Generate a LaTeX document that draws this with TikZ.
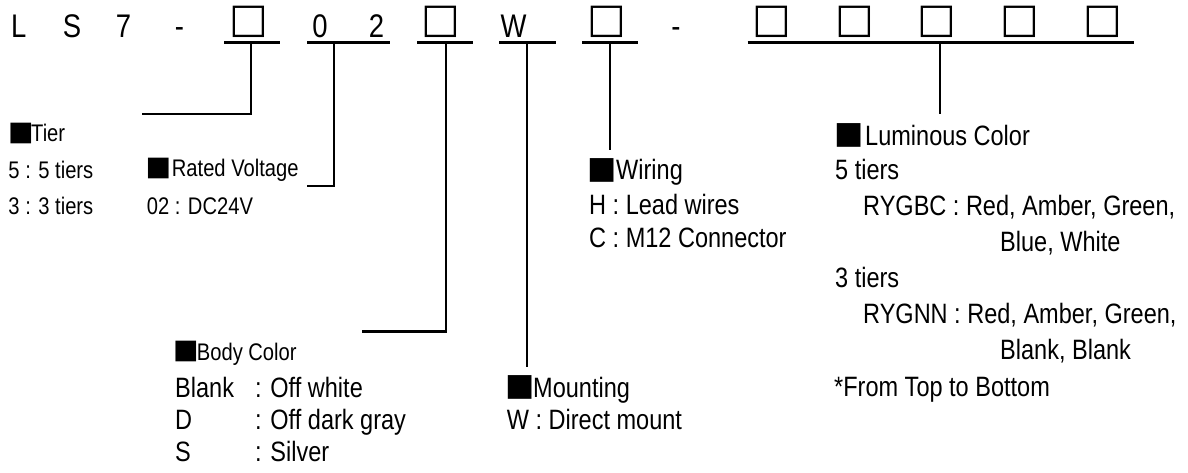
\documentclass[tikz,border=0pt]{standalone}
\usepackage{fontspec}
\setmainfont{Liberation Sans}[FakeStretch=0.84]
\newfontfamily\symfont{DejaVu Sans}
\newcommand{\bsq}{{\symfont ■}}
\newcommand{\wsq}{{\symfont\bfseries □}}
\begin{document}
\begin{tikzpicture}[x=1pt,y=-1pt,
  ch/.style={anchor=base,inner sep=0pt,font=\fontsize{32.7}{40}\selectfont},
  wbox/.style={anchor=center,inner sep=0pt,font=\fontsize{41}{46}\selectfont},
  big/.style={anchor=base west,inner sep=0pt,font=\fontsize{28}{34}\selectfont},
  small/.style={anchor=base west,inner sep=0pt,font=\fontsize{24}{29}\selectfont},
  bsqbig/.style={anchor=center,inner sep=0pt,font=\fontsize{31}{34}\selectfont},
  bsqsmall/.style={anchor=center,inner sep=0pt,font=\fontsize{27}{29}\selectfont},
  uline/.style={line width=3pt},
  conn/.style={line width=2.8pt,line join=miter}]
\useasboundingbox (0,0) rectangle (1188,472);
% top code line
\node[ch] (cL) at (18.8,37) {L};
\node[ch] (cS) at (72,37) {S};
\node[ch] (c7) at (123.4,37) {7};
\node[ch] (cd1) at (179.5,37) {-};
\node[wbox] (b1) at (249,21.6) {\wsq};
\node[ch] (c0) at (320,37) {0};
\node[ch] (c2) at (376.5,37) {2};
\node[wbox] (b2) at (441,21.6) {\wsq};
\node[ch] (cW) at (513.7,37) {W};
\node[wbox] (b3) at (607,21.6) {\wsq};
\node[ch] (cd2) at (676,37) {-};
\node[wbox] (b4) at (772,21.6) {\wsq};
\node[wbox] (b5) at (854.7,21.6) {\wsq};
\node[wbox] (b6) at (937.3,21.6) {\wsq};
\node[wbox] (b7) at (1020,21.6) {\wsq};
\node[wbox] (b8) at (1102.7,21.6) {\wsq};
% underlines
\coordinate (u1a) at (224,42);   \coordinate (u1b) at (280,42);
\coordinate (u2a) at (307,42);   \coordinate (u2b) at (389.6,42);
\coordinate (u3a) at (417,42);   \coordinate (u3b) at (472.6,42);
\coordinate (u4a) at (499,42);   \coordinate (u4b) at (555.6,42);
\coordinate (u5a) at (582.3,42); \coordinate (u5b) at (637.7,42);
\coordinate (u6a) at (747.7,42); \coordinate (u6b) at (1134,42);
\foreach \i in {1,...,6} {\draw[uline] (u\i a) -- (u\i b);}
% connector anchors
\coordinate (k1) at (251,42);  \coordinate (e1) at (142,114);
\coordinate (k2) at (334,42);  \coordinate (e2) at (307,186);
\coordinate (k3) at (446,42);  \coordinate (e3) at (362,331.7);
\coordinate (k4) at (527,42);  \coordinate (e4) at (527,366.7);
\coordinate (k5) at (610,42);  \coordinate (e5) at (610,150);
\coordinate (k6) at (940,42);  \coordinate (e6) at (940,114);
\draw[conn] (k1) |- (e1);
\draw[conn] (k2) |- (e2);
\draw[conn] (k3) |- (e3);
\draw[conn] (k4) -- (e4);
\draw[conn] (k5) -- (e5);
\draw[conn] (k6) -- (e6);
% Tier
\node[bsqsmall] (sqT) at (20.8,133) {\bsq};
\node[small] (tT) at (31,141.7) {Tier};
\node[small] (tT1) at (8.3,178.3) {5 : 5 tiers};
\node[small] (tT2) at (8.3,214) {3 : 3 tiers};
% Rated voltage
\node[bsqsmall] (sqV) at (158.5,168.5) {\bsq};
\node[small] (tV) at (171.7,176.7) {Rated Voltage};
\node[small] (tV1) at (146.7,214) {02 : DC24V};
% Body color
\node[bsqsmall] (sqB) at (185.8,351) {\bsq};
\node[small] (tB) at (196.7,360) {Body Color};
\node[big] (tB1k) at (175,397.3) {Blank};
\node[big] (tB1v) at (255,397.3) {: Off white};
\node[big] (tB2k) at (175,429.3) {D};
\node[big] (tB2v) at (255,429.3) {: Off dark gray};
\node[big] (tB3k) at (175,461.7) {S};
\node[big] (tB3v) at (255,461.7) {: Silver};
% Mounting
\node[bsqbig] (sqM) at (520,387.5) {\bsq};
\node[big] (tM) at (533,397.3) {Mounting};
\node[big] (tM1) at (506.7,429.3) {W : Direct mount};
% Wiring
\node[bsqbig] (sqW) at (602.5,170) {\bsq};
\node[big] (tW) at (616,179) {Wiring};
\node[big] (tW1) at (589,214) {H : Lead wires};
\node[big] (tW2) at (589,247.5) {C : M12 Connector};
% Luminous color
\node[bsqbig] (sqL) at (849.5,135) {\bsq};
\node[big] (tL) at (865,145) {Luminous Color};
\node[big] (tL1) at (835,179) {5 tiers};
\node[big] (tL2) at (863,215) {RYGBC : Red, Amber, Green,};
\node[big] (tL3) at (1000,251.5) {Blue, White};
\node[big] (tL4) at (835,287) {3 tiers};
\node[big] (tL5) at (863,323) {RYGNN : Red, Amber, Green,};
\node[big] (tL6) at (1000,359.5) {Blank, Blank};
\node[big] (tL7) at (834,396) {*From Top to Bottom};
\end{tikzpicture}
\end{document}
